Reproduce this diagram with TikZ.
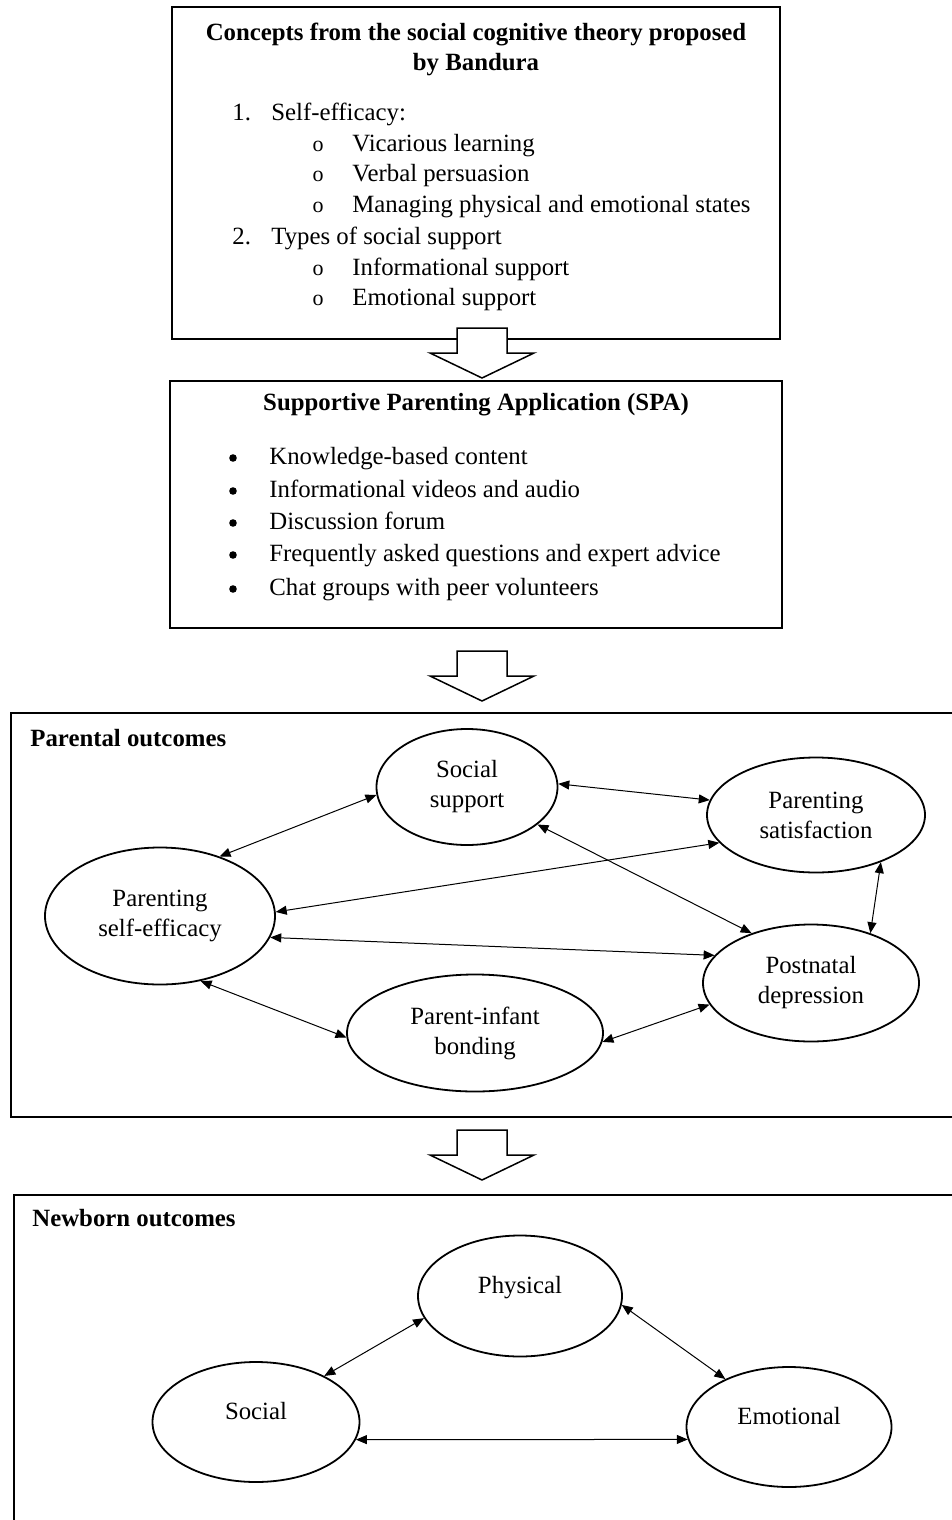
\documentclass[tikz,border=0pt]{standalone}
\usepackage{fontspec}
\setmainfont{Liberation Serif}
\usetikzlibrary{arrows.meta,positioning,shapes.geometric}

\tikzset{
  frame/.style={draw, line width=0.75pt},
  line/.style={anchor=base west, inner sep=0pt},
  outcome/.style={draw, ellipse, line width=0.9pt, inner sep=0pt, align=center},
  raised/.style={text height=9pt, text depth=12pt},
  link/.style={{Triangle[length=5.5pt,width=4.5pt]}-{Triangle[length=5.5pt,width=4.5pt]}, line width=0.5pt},
  heading/.style={font=\fontsize{12.4}{15}\selectfont\bfseries},
  dot/.style={circle, fill, inner sep=0pt, minimum size=3.8pt},
  bigarrow/.pic={
    \draw[line width=0.75pt, fill=white] (-25,0) -- (25,0) -- (25,25) -- (52,25)
      -- (0,50) -- (-52,25) -- (-25,25) -- cycle;
  }
}

\begin{document}
\begin{tikzpicture}[x=0.5pt, y=-0.5pt, font=\fontsize{12.4}{15}\selectfont]
  \clip (0,0) rectangle (952,1520);

  % Theory box
  \draw[frame] (172,7) rectangle (780,339);
  \node[heading, align=center] (theory) at (476,49) {Concepts from the social cognitive theory proposed\\by Bandura};
  \node[line] (n1) at (232,120) {1.};
  \node[line] (se) at (271,120) {Self-efficacy:};
  \node[line] (n2) at (232,244) {2.};
  \node[line] (ts) at (271,244) {Types of social support};
  \foreach \n/\y/\t in {1/143/Vicarious learning, 2/173/Verbal persuasion,
      3/205/Managing physical and emotional states, 4/267/Informational support,
      5/297/Emotional support}{
    \node[anchor=base, inner sep=0pt, font=\fontsize{11}{15}\selectfont] (o\n) at (318,\y+8) {o};
    \node[line] (c\n) at (352,\y+8) {\t};
  }
  \pic at (482,328) {bigarrow};

  % SPA box
  \draw[frame] (170,381) rectangle (782,628);
  \node[heading] (spa) at (476,405) {Supportive Parenting Application (SPA)};
  \foreach \n/\y/\t in {1/456/Knowledge-based content, 2/489/Informational videos and audio,
      3/521/Discussion forum, 4/553/Frequently asked questions and expert advice,
      5/587/Chat groups with peer volunteers}{
    \node[dot] (b\n) at (233,\y+2) {};
    \node[line] (f\n) at (269,\y+8) {\t};
  }
  \pic at (482,651) {bigarrow};

  % Parental outcomes
  \draw[frame] (11,713) rectangle (970,1117);
  \node[heading, anchor=west, inner sep=0pt] (parental) at (30,738) {Parental outcomes};
  \node[outcome, minimum width=90.5pt, minimum height=58pt] (ss) at (467,787) {Social\\support};
  \node[outcome, minimum width=109pt, minimum height=57.5pt] (ps) at (816,815) {Parenting\\satisfaction};
  \node[outcome, minimum width=115pt, minimum height=68.5pt] (pse) at (160,916) {Parenting\\self-efficacy};
  \node[outcome, minimum width=108pt, minimum height=58.5pt] (pd) at (811,983) {Postnatal\\depression};
  \node[outcome, minimum width=128pt, minimum height=58.5pt] (pib) at (475,1033) {Parent-infant\\bonding};
  \draw[link] (pse.45) -- (ss.185);
  \draw[link] (ss.2) -- (ps.172);
  \draw[link] (pse.2) -- (ps.196);
  \draw[link] (ss.332) -- (pd.140);
  \draw[link] (pse.-11) -- (pd.164);
  \draw[link] (ps.-36) -- (pd.40);
  \draw[link] (pse.-58) -- (pib.182);
  \draw[link] (pib.-4) -- (pd.192);
  \pic at (482,1130) {bigarrow};

  % Newborn outcomes
  \draw[frame] (14,1195) rectangle (970,1540);
  \node[heading, anchor=west, inner sep=0pt] (newborn) at (32,1218) {Newborn outcomes};
  \node[outcome, raised, minimum width=102pt, minimum height=60.5pt] (phy) at (520,1296) {Physical};
  \node[outcome, raised, minimum width=103.5pt, minimum height=60pt] (soc) at (256,1422) {Social};
  \node[outcome, raised, minimum width=102.5pt, minimum height=60pt] (emo) at (789,1427) {Emotional};
  \draw[link] (phy.193) -- (soc.34);
  \draw[link] (phy.-5) -- (emo.143);
  \draw[link] (soc.-10) -- (emo.187);
\end{tikzpicture}
\end{document}
